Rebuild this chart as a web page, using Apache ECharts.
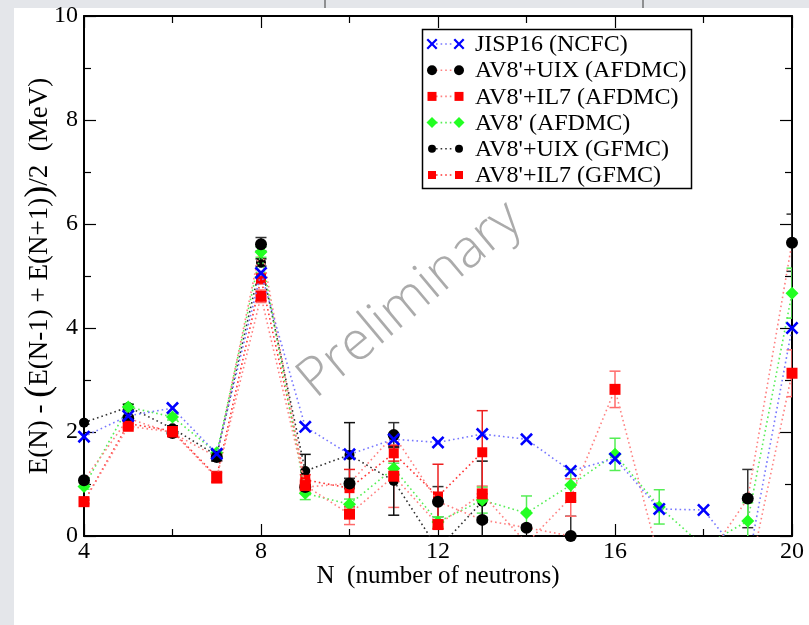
<!DOCTYPE html>
<html>
<head>
<meta charset="utf-8">
<script src="https://cdn.jsdelivr.net/npm/echarts@6/dist/echarts.min.js"></script>
<style>
  html, body { margin: 0; padding: 0; background: #ffffff; }
  #chart { width: 809px; height: 625px; }
</style>
</head>
<body>
<div id="chart"></div>
<script>
// Neutron number N
const neutrons = [4, 5, 6, 7, 8, 9, 10, 11, 12, 13, 14, 15, 16, 17, 18, 19, 20];

// Pairing-like gap E(N) - (E(N-1)+E(N+1))/2 in MeV (values below 0 fall outside the frame)
const jisp16 = [1.91, 2.31, 2.46, 1.58, 5.06, 2.10, 1.57, 1.86, 1.80, 1.96, 1.86, 1.25, 1.49, 0.52, 0.50, -0.55, 4.00];

const uixAfdmc    = [1.07, 2.26, 1.98, 1.52, 5.61, 0.94, 1.01, 1.94, 0.66, 0.31, 0.16, 0.00, -0.60, -0.60, -0.52, 0.72, 5.64];
const uixAfdmcErr = [0.05, 0.05, 0.05, 0.08, 0.13, 0.05, 0.10, 0.24, 0.29, 0.05, 0.05, 0.38, null, null, null, 0.56, 0.55];

const il7Afdmc    = [0.66, 2.11, 2.00, 1.12, 4.61, 0.97, 0.42, 1.15, 0.22, 0.81, -0.14, 0.74, 2.82, -0.46, -0.90, -0.90, 3.13];
const il7AfdmcErr = [0.06, 0.05, 0.05, 0.10, 0.12, 0.12, 0.20, 0.60, 0.08, 0.15, null, 0.36, 0.35, null, null, null, 0.45];

const av8Afdmc    = [0.95, 2.48, 2.29, 1.60, 5.46, 0.82, 0.61, 1.30, 0.27, 0.69, 0.44, 0.98, 1.57, 0.56, -0.20, 0.29, 4.67];
const av8AfdmcErr = [0.05, 0.06, 0.06, 0.06, 0.10, 0.12, 0.10, 0.10, 0.10, 0.25, 0.33, 0.30, 0.31, 0.33, null, 0.35, 0.48];

const uixGfmc    = [2.18, 2.48, 2.07, 1.55, 5.26, 1.25, 1.56, 1.06, -0.25, 0.66, null, null, null, null, null, null, null];
const uixGfmcErr = [0.03, 0.05, 0.05, 0.10, 0.07, 0.32, 0.62, 0.66, 0.10, 0.78, null, null, null, null, null, null, null];

const il7Gfmc    = [0.66, 2.16, 2.02, 1.14, 4.95, 1.08, 0.92, 1.59, 0.76, 1.61, null, null, null, null, null, null, null];
const il7GfmcErr = [0.03, 0.05, 0.05, 0.10, 0.10, 0.10, 0.36, 0.15, 0.62, 0.80, null, null, null, null, null, null, null];

const xTicks = [4, 8, 12, 16, 20];
const yTicks = [0, 2, 4, 6, 8, 10];

const legendNames = [
  'JISP16 (NCFC)',
  "AV8'+UIX (AFDMC)",
  "AV8'+IL7 (AFDMC)",
  "AV8' (AFDMC)",
  "AV8'+UIX (GFMC)",
  "AV8'+IL7 (GFMC)"
];

const SERIF = '"Liberation Serif", "DejaVu Serif", serif';
const CROSS = 'path://M0,2 L2,0 L7,5 L12,0 L14,2 L9,7 L14,12 L12,14 L7,9 L2,14 L0,12 L5,7 Z';
const DOT = [1.6, 3];

function pairs(vals) {
  return neutrons.map((n, i) => [n, vals[i]]);
}

function errData(vals, errs) {
  const out = [];
  neutrons.forEach((n, i) => {
    if (vals[i] != null && errs[i] != null) out.push([n, vals[i] - errs[i], vals[i] + errs[i]]);
  });
  return out;
}

function errSeries(vals, errs, color) {
  return {
    type: 'custom',
    data: errData(vals, errs),
    encode: { x: 0, y: [1, 2] },
    clip: true,
    z: 1,
    silent: true,
    renderItem: function (params, api) {
      const lo = api.coord([api.value(0), api.value(1)]);
      const hi = api.coord([api.value(0), api.value(2)]);
      const w = 5.5;
      const st = { stroke: color, lineWidth: 1.5 };
      return {
        type: 'group',
        children: [
          { type: 'line', shape: { x1: lo[0], y1: lo[1], x2: hi[0], y2: hi[1] }, style: st },
          { type: 'line', shape: { x1: lo[0] - w, y1: lo[1], x2: lo[0] + w, y2: lo[1] }, style: st },
          { type: 'line', shape: { x1: hi[0] - w, y1: hi[1], x2: hi[0] + w, y2: hi[1] }, style: st }
        ]
      };
    }
  };
}

function lineSeries(name, vals, symbol, size, markColor, lineColor, z) {
  return {
    name: name,
    type: 'line',
    data: pairs(vals),
    symbol: symbol,
    symbolSize: size,
    showAllSymbol: true,
    connectNulls: false,
    clip: true,
    z: z,
    itemStyle: { color: markColor },
    lineStyle: { color: lineColor, width: 1.6, type: DOT },
    emphasis: { disabled: true },
    animation: false
  };
}

// legend drawn as a framed box: symbol ... symbol, then the label
const legendStyle = [
  { shape: 'cross', fill: '#0000ff', line: '#7777ff', size: 13 },
  { shape: 'circle', fill: '#000000', line: '#ff8080', size: 12 },
  { shape: 'square', fill: '#ff0000', line: '#ff8080', size: 11 },
  { shape: 'diamond', fill: '#22ff22', line: '#55ee55', size: 13 },
  { shape: 'circle', fill: '#000000', line: '#333333', size: 10 },
  { shape: 'square', fill: '#ff0000', line: '#ff3333', size: 10 }
];

function legendMark(kind, cx, cy, s, fill) {
  const h = s / 2;
  if (kind === 'circle') return { type: 'circle', shape: { cx: cx, cy: cy, r: h }, style: { fill: fill } };
  if (kind === 'square') return { type: 'rect', shape: { x: cx - h, y: cy - h, width: s, height: s }, style: { fill: fill } };
  if (kind === 'diamond') return { type: 'polygon', shape: { points: [[cx, cy - h], [cx + h, cy], [cx, cy + h], [cx - h, cy]] }, style: { fill: fill } };
  const k = s / 14;
  const p = [[0,2],[2,0],[7,5],[12,0],[14,2],[9,7],[14,12],[12,14],[7,9],[2,14],[0,12],[5,7]]
    .map(q => [cx - h + q[0] * k, cy - h + q[1] * k]);
  return { type: 'polygon', shape: { points: p }, style: { fill: fill } };
}

const legendChildren = [
  { type: 'rect', shape: { x: 422.5, y: 29.5, width: 269, height: 159 }, style: { fill: '#ffffff', stroke: '#000000', lineWidth: 1.5 } }
];
legendNames.forEach((txt, i) => {
  const cy = 44 + i * 26.2;
  const ls = legendStyle[i];
  legendChildren.push({ type: 'line', shape: { x1: 436, y1: cy, x2: 454, y2: cy }, style: { stroke: ls.line, lineWidth: 1.6, lineDash: DOT } });
  legendChildren.push(legendMark(ls.shape, 432, cy, ls.size - 2, ls.fill));
  legendChildren.push(legendMark(ls.shape, 459, cy, ls.size - 2, ls.fill));
  legendChildren.push({ type: 'text', style: { x: 475, y: cy + 1, text: txt, fill: '#000', font: '24px ' + SERIF, textVerticalAlign: 'middle' } });
});

const chart = echarts.init(document.getElementById('chart'), null, { renderer: 'canvas' });

const axisCommon = {
  axisLine: { show: true, onZero: false, lineStyle: { color: '#000', width: 2 } },
  axisTick: { show: true, inside: true, length: 12, lineStyle: { color: '#000', width: 1.2 } },
  minorTick: { show: true, splitNumber: 2, length: 7, lineStyle: { color: '#000', width: 1.2 } },
  splitLine: { show: false },
  minorSplitLine: { show: false }
};

chart.setOption({
  animation: false,
  backgroundColor: '#ffffff',
  grid: { left: 84, right: 17, top: 16, bottom: 89, containLabel: false },
  xAxis: [
    Object.assign({}, axisCommon, {
      type: 'value', min: 4, max: 20, interval: 4,
      axisLabel: { color: '#000', fontFamily: SERIF, fontSize: 24, margin: 4, formatter: v => xTicks.includes(v) ? String(v) : '' },
      name: 'N  (number of neutrons)',
      nameLocation: 'middle', nameGap: 28, nameMoveOverlap: false,
      nameTextStyle: { color: '#000', fontFamily: SERIF, fontSize: 25 }
    }),
    Object.assign({}, axisCommon, {
      type: 'value', min: 4, max: 20, interval: 4, position: 'top',
      axisLabel: { show: false }
    })
  ],
  yAxis: [
    Object.assign({}, axisCommon, {
      type: 'value', min: 0, max: 10, interval: 2,
      axisLabel: { color: '#000', fontFamily: SERIF, fontSize: 24, margin: 6, formatter: v => yTicks.includes(v) ? String(v) : '' },
      name: '{t|E(N) - }{b|(}{t|E(N-1) + E(N+1)}{b|)}{t|/2  (MeV)}',
      nameLocation: 'middle', nameGap: 26, nameRotate: 90, nameMoveOverlap: false,
      nameTextStyle: {
        color: '#000', fontFamily: SERIF, fontSize: 27,
        rich: {
          t: { fontFamily: SERIF, fontSize: 27, color: '#000' },
          b: { fontFamily: SERIF, fontSize: 36, color: '#000' }
        }
      }
    }),
    Object.assign({}, axisCommon, {
      type: 'value', min: 0, max: 10, interval: 2, position: 'right',
      axisLabel: { show: false }
    })
  ],
  graphic: [
    // light frame strips along the left and top edges
    { type: 'rect', shape: { x: 0, y: 0, width: 14, height: 625 }, style: { fill: '#e4e6ea' }, z: 0 },
    { type: 'rect', shape: { x: 0, y: 0, width: 809, height: 8 }, style: { fill: '#e4e6ea' }, z: 0 },
    { type: 'line', shape: { x1: 325, y1: 0, x2: 325, y2: 8 }, style: { stroke: '#555', lineWidth: 1.2 }, z: 0 },
    { type: 'line', shape: { x1: 643, y1: 0, x2: 643, y2: 8 }, style: { stroke: '#555', lineWidth: 1.2 }, z: 0 },
    // watermark
    {
      type: 'text', x: 410, y: 300, rotation: 40 * Math.PI / 180, z: 50, silent: true,
      style: { text: 'Preliminary', fill: 'rgba(150,150,150,0.8)', font: '300 54px "Open Sans", "DejaVu Sans", sans-serif', textAlign: 'center', textVerticalAlign: 'middle' }
    },
    { type: 'group', z: 60, children: legendChildren }
  ],
  series: [
    errSeries(uixAfdmc, uixAfdmcErr, '#333333'),
    errSeries(il7Afdmc, il7AfdmcErr, '#ff6a6a'),
    errSeries(av8Afdmc, av8AfdmcErr, '#55ee55'),
    errSeries(uixGfmc, uixGfmcErr, '#111111'),
    errSeries(il7Gfmc, il7GfmcErr, '#ee2020'),
    lineSeries(legendNames[4], uixGfmc, 'circle', 10, '#000000', '#333333', 3),
    lineSeries(legendNames[5], il7Gfmc, 'rect', 10, '#ff0000', '#ff3333', 3),
    lineSeries(legendNames[3], av8Afdmc, 'diamond', 13, '#22ff22', '#55ee55', 4),
    lineSeries(legendNames[1], uixAfdmc, 'circle', 12, '#000000', '#ff8080', 4),
    lineSeries(legendNames[2], il7Afdmc, 'rect', 11, '#ff0000', '#ff8080', 4),
    lineSeries(legendNames[0], jisp16, CROSS, 13, '#0000ff', '#7777ff', 5)
  ]
});
</script>
</body>
</html>
